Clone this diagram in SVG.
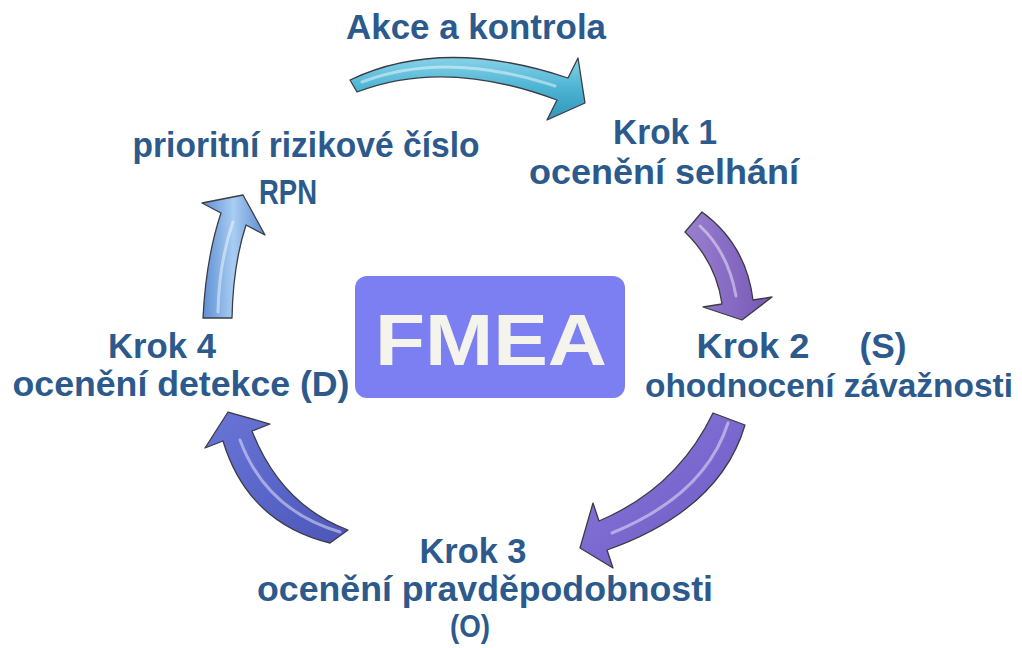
<svg xmlns="http://www.w3.org/2000/svg" width="1022" height="648" viewBox="0 0 1022 648">
<defs>
<linearGradient id="g1" x1="0" y1="0" x2="0" y2="1"><stop offset="0" stop-color="#86d2e8"/><stop offset="0.5" stop-color="#4cb3d3"/><stop offset="1" stop-color="#3196b8"/></linearGradient>
<linearGradient id="g2" x1="0" y1="0" x2="1" y2="0"><stop offset="0" stop-color="#9a80d0"/><stop offset="0.5" stop-color="#876bc4"/><stop offset="1" stop-color="#7558b2"/></linearGradient>
<linearGradient id="g3" x1="0" y1="0" x2="1" y2="1"><stop offset="0" stop-color="#8a7ad8"/><stop offset="0.5" stop-color="#7b69d0"/><stop offset="1" stop-color="#6a58c0"/></linearGradient>
<linearGradient id="g4" x1="0" y1="0" x2="1" y2="1"><stop offset="0" stop-color="#6a76d6"/><stop offset="0.5" stop-color="#5b66ca"/><stop offset="1" stop-color="#4c56b8"/></linearGradient>
<linearGradient id="g5" x1="0" y1="0" x2="1" y2="0"><stop offset="0" stop-color="#5c8ed4"/><stop offset="0.5" stop-color="#a9cdf2"/><stop offset="1" stop-color="#5a8cd0"/></linearGradient>
<style>
.lbl{font-family:"Liberation Sans",Arial,sans-serif;font-weight:bold;font-size:35px;fill:#2c5a8c;text-anchor:middle}
.arr{stroke:#3c3c44;stroke-width:1.3;stroke-linejoin:round}
.hl{fill:none;stroke:#ffffff;stroke-opacity:0.45;stroke-width:3;stroke-linecap:round}
</style>
</defs>
<rect width="1022" height="648" fill="#ffffff"/>
<g id="connectors">
<path class="arr" fill="url(#g1)" d="M350,80 Q442,36 568,78 L578,58 L585,103 L547,120 L557,100 Q445,58 357,92 Z"/>
<path class="hl" d="M362,82 Q445,50 555,86"/>
<path class="arr" fill="url(#g2)" d="M685,232 Q716,262 722,304 L703,307 L742,320 L772,297 L753,300 Q746,244 702,212 Z"/>
<path class="hl" d="M700,226 Q728,252 736,296"/>
<path class="arr" fill="url(#g3)" d="M713,413 Q677,488 599,521 L593,503 L580,548 L613,568 L607,550 Q720,510 745,425 Z"/>
<path class="hl" d="M728,423 Q705,495 612,533"/>
<path class="arr" fill="url(#g4)" d="M330,543 Q248,523 223,441 L205,448 L228,412 L270,424 L252,431 Q281,505 348,530 Z"/>
<path class="hl" d="M340,532 Q266,510 240,440"/>
<path class="arr" fill="url(#g5)" d="M203,318 Q206,258 221,213 L202,203 L243,195 L265,235 L246,225 Q233,265 232,318 Z"/>
<path class="hl" d="M218,312 Q219,262 233,222"/>
</g>
<g id="node-fmea">
<rect x="355" y="276" width="270" height="122" rx="12" fill="#7b7ff2"/>
<text x="491" y="365" font-family="'Liberation Sans',Arial,sans-serif" font-weight="bold" font-size="72" fill="#f4f4ec" text-anchor="middle" textLength="232" lengthAdjust="spacingAndGlyphs">FMEA</text>
</g>
<g id="node-akce">
<text class="lbl" x="476" y="39" textLength="260" lengthAdjust="spacingAndGlyphs">Akce a kontrola</text>
</g>
<g id="node-rpn">
<text class="lbl" x="306" y="157" textLength="347" lengthAdjust="spacingAndGlyphs">prioritní rizikové číslo</text>
<text class="lbl" x="288" y="204" textLength="58" lengthAdjust="spacingAndGlyphs">RPN</text>
</g>
<g id="node-krok1">
<text class="lbl" x="665" y="144" textLength="104" lengthAdjust="spacingAndGlyphs">Krok 1</text>
<text class="lbl" x="664" y="184" textLength="270" lengthAdjust="spacingAndGlyphs">ocenění selhání</text>
</g>
<g id="node-krok2">
<text class="lbl" x="753" y="358" textLength="113" lengthAdjust="spacingAndGlyphs">Krok 2</text>
<text class="lbl" x="883" y="358" textLength="47" lengthAdjust="spacingAndGlyphs">(S)</text>
<text class="lbl" x="645" y="397" style="font-size:33px;text-anchor:start" textLength="368" lengthAdjust="spacingAndGlyphs">ohodnocení závažnosti</text>
</g>
<g id="node-krok3">
<text class="lbl" x="473" y="563" textLength="107" lengthAdjust="spacingAndGlyphs">Krok 3</text>
<text class="lbl" x="485" y="601" textLength="456" lengthAdjust="spacingAndGlyphs">ocenění pravděpodobnosti</text>
<text class="lbl" x="470" y="637" style="font-size:32px" textLength="40" lengthAdjust="spacingAndGlyphs">(O)</text>
</g>
<g id="node-krok4">
<text class="lbl" x="162" y="358" textLength="108" lengthAdjust="spacingAndGlyphs">Krok 4</text>
<text class="lbl" x="181" y="396" textLength="337" lengthAdjust="spacingAndGlyphs">ocenění detekce (D)</text>
</g>
</svg>
